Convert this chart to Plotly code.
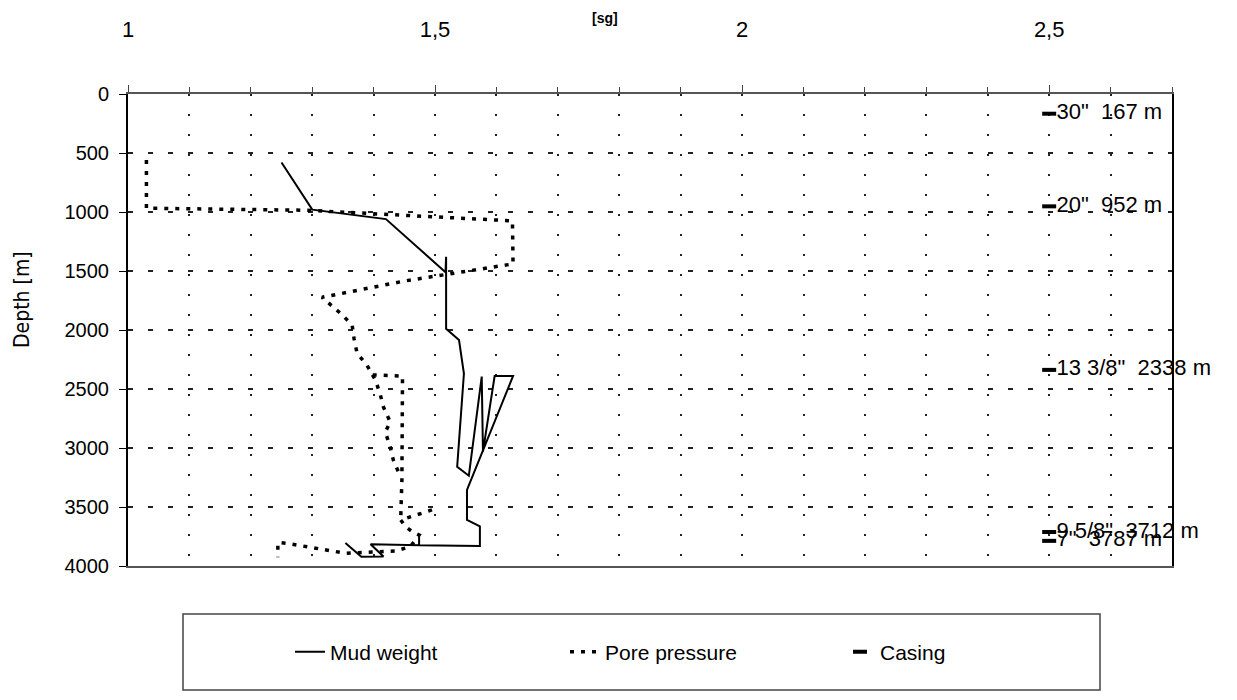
import plotly.graph_objects as go

# ---------------- data ----------------
mud_sg = [1.25, 1.30, 1.42, 1.517, 1.518, 1.518, 1.539, 1.544, 1.547, 1.536, 1.555,
          1.576, 1.578, 1.597, 1.627, 1.552, 1.552, 1.573, 1.573, 1.474, 1.474, 1.474,
          1.395, 1.416, 1.38, 1.354]
mud_depth = [580, 980, 1060, 1510, 1380, 1990, 2085, 2280, 2370, 3160, 3235,
             2395, 3030, 2390, 2390, 3355, 3610, 3665, 3830, 3825, 3735, 3825,
             3815, 3920, 3922, 3805]

pore_sg = [1.03, 1.03, 1.29, 1.626, 1.627, 1.45, 1.316, 1.33, 1.349, 1.365, 1.368,
           1.373, 1.389, 1.398, 1.447, 1.446, 1.444, None,
           1.398, 1.403, 1.411, 1.416, 1.427, 1.419, 1.427, 1.432, 1.444, None,
           1.495, 1.444, 1.452, 1.463, 1.474, 1.46, 1.436, 1.354, 1.259, 1.244, 1.244]
pore_depth = [560, 968, 985, 1075, 1440, 1585, 1723, 1788, 1873, 1958, 2070,
              2197, 2297, 2381, 2390, 3270, 3610, None,
              2381, 2424, 2551, 2653, 2780, 2864, 2992, 3102, 3246, None,
              3525, 3610, 3667, 3709, 3737, 3835, 3873, 3892, 3808, 3800, 3925]

casing_sg = [2.5, 2.5, 2.5, 2.5, 2.5]
casing_depth = [167, 952, 2338, 3712, 3787]
casing_labels = ['30"\u00a0 167 m', '20"\u00a0 952 m', '13 3/8"\u00a0 2338 m',
                 '9 5/8"\u00a0 3712 m', '7"\u00a0 3787 m']

x_tick_vals = [1, 1.5, 2, 2.5]
x_tick_text = ["1", "1,5", "2", "2,5"]

# ---------------- geometry (page pixels) ----------------
PAGE_W, PAGE_H = 1237, 700
OFF = 8                      # default body margin of the html page
W, H = PAGE_W - 2 * OFF, PAGE_H - 2 * OFF
L, R, T, B = 128, 1172, 94, 566   # plot area in page pixels


def px_x(p):
    return (p - L) / (R - L)


def px_y(p):
    return (B - p) / (B - T)


FONT = "Liberation Sans, Arial, sans-serif"

fig = go.Figure()
fig.add_trace(go.Scatter(
    x=mud_sg, y=mud_depth, mode="lines", name="Mud weight",
    line=dict(color="black", width=2)))
fig.add_trace(go.Scatter(
    x=pore_sg, y=pore_depth, mode="lines", name="Pore pressure",
    connectgaps=False,
    line=dict(color="black", width=3.5, dash="4px,7px")))
fig.add_trace(go.Scatter(
    x=casing_sg, y=casing_depth, mode="markers+text", name="Casing",
    marker=dict(symbol="line-ew", size=10, line=dict(width=4, color="black")),
    text=casing_labels, textposition="middle right",
    textfont=dict(size=22, color="black", family=FONT),
    cliponaxis=False))

grid_col = "#222"
fig.update_layout(
    width=W, height=H,
    margin=dict(l=L - OFF, r=(OFF + W) - R, t=T - OFF, b=(OFF + H) - B, pad=0),
    paper_bgcolor="white", plot_bgcolor="white",
    font=dict(family=FONT, color="black"),
    showlegend=True,
    legend=dict(orientation="h", x=px_x(290), y=px_y(652),
                xanchor="left", yanchor="middle",
                font=dict(size=21, family=FONT),
                entrywidth=230, entrywidthmode="pixels",
                bgcolor="rgba(0,0,0,0)", borderwidth=0),
    xaxis=dict(
        side="top", range=[1, 2.7], automargin=False,
        tickvals=x_tick_vals, ticktext=x_tick_text,
        showgrid=True, gridcolor=grid_col, gridwidth=1.5, griddash="2px,18px",
        minor=dict(dtick=0.1, tick0=1, showgrid=True, gridcolor=grid_col,
                   gridwidth=1.5, griddash="2px,18px",
                   ticks="outside", ticklen=5, tickcolor="#444"),
        ticks="outside", ticklen=7, tickcolor="#444",
        showline=True, linecolor="#555", linewidth=1.5, mirror=True,
        zeroline=False,
        tickfont=dict(size=22, color="black", family=FONT),
        ticklabelstandoff=39),
    yaxis=dict(
        range=[4000, 0], tick0=0, dtick=500, automargin=False,
        showgrid=True, gridcolor=grid_col, gridwidth=1.5, griddash="5px,15px",
        ticks="outside", ticklen=7, tickcolor="black",
        showline=True, linecolor="black", linewidth=2, mirror=True,
        zeroline=False,
        tickfont=dict(size=20, color="black", family=FONT),
        ticklabelstandoff=6),
    annotations=[
        dict(text="<b>[sg]</b>", xref="paper", yref="paper",
             x=px_x(605), y=px_y(18), xanchor="center", yanchor="middle",
             showarrow=False, font=dict(size=14, family=FONT)),
        dict(text="Depth [m]", xref="paper", yref="paper",
             x=px_x(22), y=px_y(300), xanchor="center", yanchor="middle",
             showarrow=False, textangle=-90,
             font=dict(size=21, family="DejaVu Sans Condensed, Liberation Sans Narrow, sans-serif")),
    ],
    shapes=[
        dict(type="rect", xref="paper", yref="paper",
             x0=px_x(183), x1=px_x(1100), y0=px_y(690), y1=px_y(614),
             line=dict(color="#444", width=1.5), fillcolor="rgba(0,0,0,0)"),
    ],
)

fig.write_html("out.html")
